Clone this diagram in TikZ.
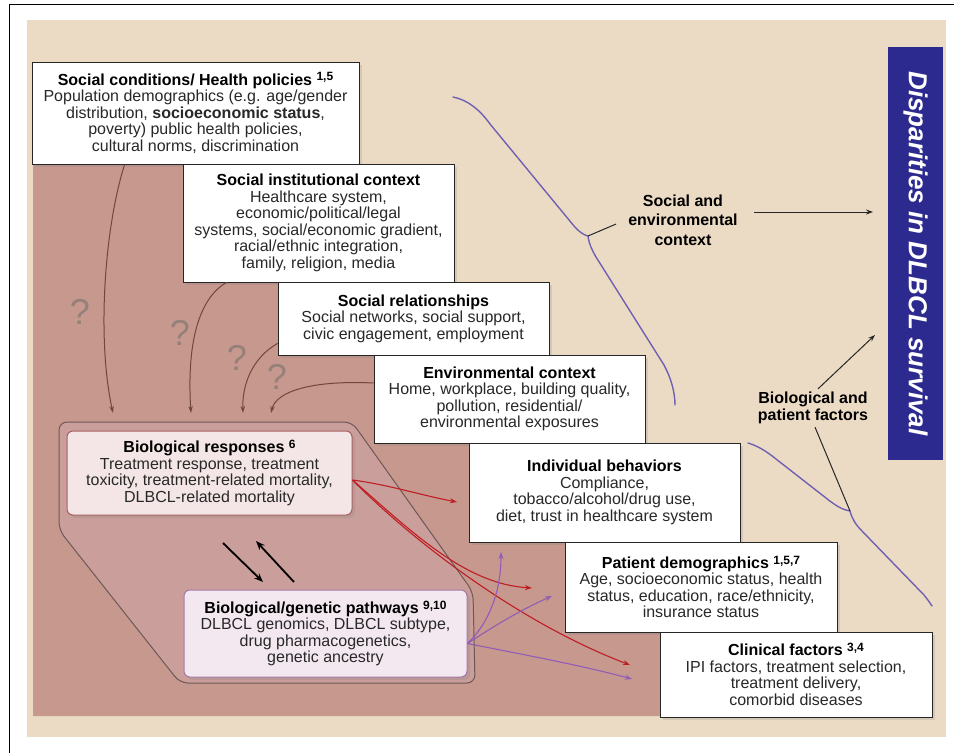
\documentclass[tikz,border=0pt]{standalone}
\usepackage{fontspec}
\setmainfont{Liberation Sans}
\usepackage{xcolor}
\usepackage{tikz}
\usetikzlibrary{arrows.meta, shadows}
\definecolor{dsBeige}{RGB}{236,219,196}
\definecolor{dsRegion}{RGB}{199,152,142}
\definecolor{dsHex}{RGB}{202,158,154}
\definecolor{dsHexLine}{RGB}{110,88,86}
\definecolor{dsBlue}{RGB}{44,42,142}
\definecolor{dsBrace}{RGB}{112,96,178}
\definecolor{dsRed}{RGB}{190,30,35}
\definecolor{dsPurple}{RGB}{145,92,182}
\definecolor{dsBrown}{RGB}{112,72,58}
\definecolor{dsQ}{RGB}{150,128,122}
\definecolor{dsResp}{RGB}{244,230,230}
\definecolor{dsRespLine}{RGB}{170,95,95}
\definecolor{dsGen}{RGB}{244,232,240}
\definecolor{dsGenLine}{RGB}{165,120,165}
\definecolor{dsText}{RGB}{40,40,40}
\newcommand{\ttl}[1]{\textbf{\color{black}#1}}
\newcommand{\refs}[1]{\raisebox{0.5ex}{\fontsize{12}{12}\selectfont#1}}

\begin{document}
\begin{tikzpicture}[x=1pt, y=-1pt,
    box/.style={draw=black!85, fill=white, line width=0.8pt, align=center, inner sep=0pt,
      font=\fontsize{16}{16.5}\selectfont, text=dsText,
      drop shadow={shadow xshift=3pt, shadow yshift=-3pt, opacity=0.22}},
    biobox/.style={box, rounded corners=6pt, line width=1pt},
    lbl/.style={font=\fontsize{16}{19.5}\selectfont\bfseries, align=center, inner sep=3pt},
    qmark/.style={font=\fontsize{36}{36}\selectfont, text=dsQ, inner sep=0pt},
    brarr/.style={draw=dsBrown, line width=1pt, -{Stealth[length=7pt,width=4.5pt]}},
    redarr/.style={draw=dsRed, line width=1.1pt, -{Stealth[length=7pt,width=5pt]}},
    purarr/.style={draw=dsPurple, line width=1.1pt, -{Stealth[length=7pt,width=5pt]}},
    blkarr/.style={draw=black, line width=1.8pt, -{Stealth[length=9pt,width=7pt]}},
    brace/.style={draw=dsBrace, line width=1.4pt, line cap=round, line join=round},
    lead/.style={draw=black!85, line width=1pt}
  ]
  \useasboundingbox (0,0) rectangle (954,753);
  \fill[white] (0,0) rectangle (954,753);
  \draw[line width=1pt] (9,753) -- (9,4) -- (954,4);

  % background and staircase region
  \fill[dsBeige] (27,20) rectangle (946,737);
  \fill[dsRegion] (33,150) -- (330,150) -- (330,270) -- (430,270) -- (430,340) -- (520,340)
    -- (520,430) -- (620,430) -- (620,530) -- (720,530) -- (720,620) -- (810,620)
    -- (810,716) -- (33,716) -- cycle;
  \draw[fill=dsHex, draw=dsHexLine, line width=1pt, rounded corners=8pt]
    (59,422) -- (352,422) -- (473,592) -- (475,683) -- (180,683) -- (59,530) -- cycle;

  % title
  \node[fill=dsBlue, text=white, rotate=-90, minimum width=413pt, minimum height=55pt,
    font=\fontsize{26}{26}\selectfont\bfseries\itshape] (title) at (915.5,253.5)
    {Disparities in DLBCL survival};

  % social and environmental context
  \node[box, minimum width=327pt, minimum height=102pt] (soc) at (195.5,113)
    {\ttl{Social conditions/ Health policies \refs{1,5}}\\
     Population demographics (e.g. age/gender\\
     distribution, \textbf{socioeconomic status},\\
     poverty) public health policies,\\
     cultural norms, discrimination};
  \node[box, minimum width=271pt, minimum height=118pt] (inst) at (318.5,223)
    {\ttl{Social institutional context}\\
     Healthcare system,\\
     economic/political/legal\\
     systems, social/economic gradient,\\
     racial/ethnic integration,\\
     family, religion, media};
  \node[box, minimum width=271pt, minimum height=73pt] (rel) at (413.5,318.5)
    {\ttl{Social relationships}\\
     Social networks, social support,\\
     civic engagement, employment};
  \node[box, minimum width=271pt, minimum height=88pt] (env) at (509.5,399)
    {\ttl{Environmental context}\\
     Home, workplace, building quality,\\
     pollution, residential/\\
     environmental exposures};

  % biological and patient factors
  \node[box, minimum width=271pt, minimum height=99pt] (behav) at (604.5,492.5)
    {\ttl{Individual behaviors}\\
     Compliance,\\
     tobacco/alcohol/drug use,\\
     diet, trust in healthcare system};
  \node[box, minimum width=272pt, minimum height=90pt] (demo) at (701,587)
    {\ttl{Patient demographics \refs{1,5,7}}\\
     Age, socioeconomic status, health\\
     status, education, race/ethnicity,\\
     insurance status};
  \node[box, minimum width=272pt, minimum height=85pt] (clin) at (796,674.5)
    {\ttl{Clinical factors \refs{3,4}}\\
     IPI factors, treatment selection,\\
     treatment delivery,\\
     comorbid diseases};

  \node[biobox, fill=dsResp, draw=dsRespLine, minimum width=285pt, minimum height=84pt]
    (resp) at (209.5,473)
    {\ttl{Biological responses \refs{6}}\\
     Treatment response, treatment\\
     toxicity, treatment-related mortality,\\
     DLBCL-related mortality};
  \node[biobox, fill=dsGen, draw=dsGenLine, minimum width=283pt, minimum height=87pt]
    (gen) at (325.5,633.5)
    {\ttl{Biological/genetic pathways \refs{9,10}}\\
     DLBCL genomics, DLBCL subtype,\\
     drug pharmacogenetics,\\
     genetic ancestry};

  % question marks and arrows into biology
  \node[qmark] (q1) at (80,312) {?};
  \node[qmark] (q2) at (180,333) {?};
  \node[qmark] (q3) at (237,358) {?};
  \node[qmark] (q4) at (277,377) {?};
  \coordinate (in1) at (113,413);
  \coordinate (in2) at (191,413);
  \coordinate (in3) at (243,413);
  \coordinate (in4) at (271,413);
  \draw[brarr] ([xshift=93pt]soc.south west) .. controls (104,230) and (97,340) .. (in1);
  \draw[brarr] ([xshift=44pt]inst.south west) .. controls (196,300) and (187,350) .. (in2);
  \draw[brarr] ([yshift=12pt]rel.south west) .. controls (252,358) and (242,385) .. (in3);
  \draw[brarr] ([yshift=16pt]env.west) .. controls (310,380) and (276,392) .. (in4);

  \coordinate (dn1) at (223,543);
  \coordinate (dn2) at (263,582);
  \coordinate (up1) at (294,582);
  \coordinate (up2) at (256,541);
  \draw[blkarr] (dn1) -- (dn2);
  \draw[blkarr] (up1) -- (up2);

  % red and purple arrows
  \coordinate (r1) at (457,502);
  \coordinate (r2) at (532,588);
  \coordinate (r3) at (630,665);
  \draw[redarr] ([yshift=-7pt]resp.east) .. controls (390,485) and (420,495) .. (r1);
  \draw[redarr] ([yshift=-7pt]resp.east) .. controls (412,532) and (465,584) .. (r2);
  \draw[redarr] ([yshift=-7pt]resp.east) .. controls (420,548) and (525,625) .. (r3);
  \coordinate (p1) at (501,552);
  \coordinate (p2) at (552,596);
  \coordinate (p3) at (632,679);
  \draw[purarr] ([yshift=-10pt]gen.east) .. controls (490,622) and (501,590) .. (p1);
  \draw[purarr] ([yshift=-10pt]gen.east) .. controls (500,622) and (525,608) .. (p2);
  \draw[purarr] ([yshift=-10pt]gen.east) .. controls (525,655) and (580,665) .. (p3);

  % braces and labels
  \coordinate (cuspA) at (588,236);
  \draw[brace] (453,97) .. controls (468,100) and (480,110) .. (490,124) -- (574,226)
    .. controls (579,232) and (584,235) .. (cuspA)
    .. controls (589,244) and (592,250) .. (596,257) -- (664,365)
    .. controls (671,378) and (675,392) .. (675,405);
  \coordinate (cuspB) at (850,511);
  \draw[brace] (748,443) .. controls (758,446) and (766,451) .. (776,459) -- (826,498)
    .. controls (836,506) and (843,510) .. (cuspB)
    .. controls (852,519) and (856,525) .. (862,531) -- (924,595)
    .. controls (928,600) and (930,603) .. (932,606);

  \node[lbl] (secLab) at (683,220) {Social and\\ environmental\\ context};
  \node[lbl, font=\fontsize{16}{17}\selectfont\bfseries] (bioLab) at (813,408)
    {Biological and\\ patient factors};
  \draw[lead] (cuspA) -- ([xshift=-9pt,yshift=-4pt]secLab.west);
  \draw[lead] ([xshift=2pt]bioLab.south) -- (cuspB);
  \coordinate (secTip) at (873,212);
  \coordinate (bioTip) at (875,335);
  \draw[lead, -{Stealth[length=7pt,width=5pt]}] ([xshift=13pt,yshift=8pt]secLab.east) -- (secTip);
  \draw[lead, -{Stealth[length=7pt,width=5pt]}] ([xshift=5pt]bioLab.north) -- (bioTip);
\end{tikzpicture}
\end{document}
